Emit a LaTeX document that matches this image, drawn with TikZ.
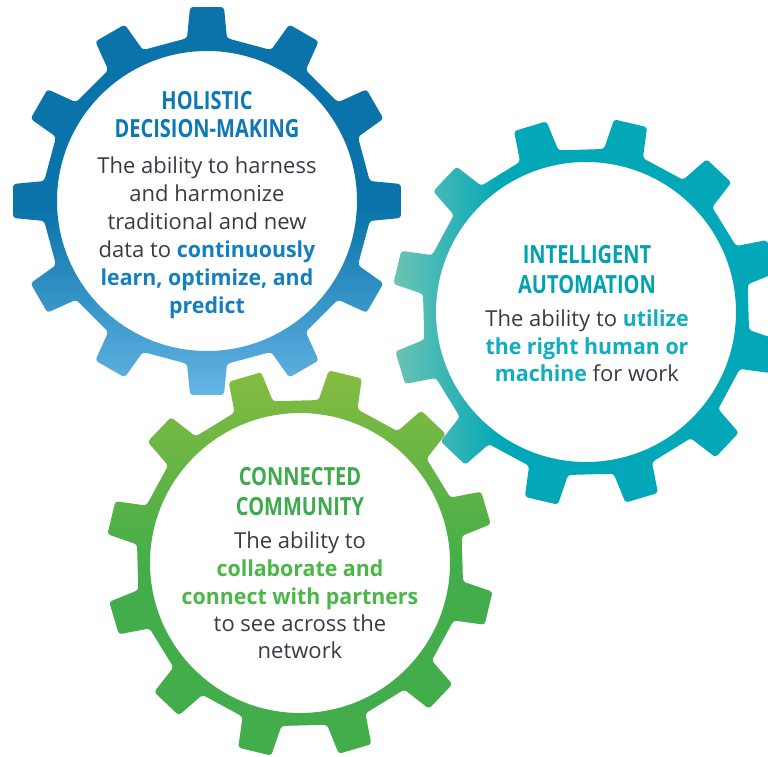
\documentclass[tikz,border=0pt]{standalone}
\usepackage{fontspec}
\setmainfont{Open Sans}
\newfontfamily\headfont[FakeStretch=0.8]{Open Sans}
\newfontfamily\emfont[FakeStretch=0.97]{Open Sans}
\definecolor{bluedark}{HTML}{0A73A9}
\definecolor{bluelight}{HTML}{65B5E5}
\definecolor{teallight}{HTML}{6EC3B3}
\definecolor{tealdark}{HTML}{02A8B8}
\definecolor{greenlight}{HTML}{86BC40}
\definecolor{greendark}{HTML}{42AD4A}
\definecolor{bluehead}{HTML}{0C78B5}
\definecolor{blueemph}{HTML}{137FC0}
\definecolor{tealhead}{HTML}{00A2B2}
\definecolor{tealemph}{HTML}{12ADBF}
\definecolor{greenhead}{HTML}{3DAA4B}
\definecolor{greenemph}{HTML}{4BB748}
\definecolor{txtgray}{HTML}{3A3A44}
\pgfdeclareverticalshading{blueg}{100bp}{color(0bp)=(bluelight); color(25bp)=(bluelight); color(49bp)=(bluedark); color(100bp)=(bluedark)}
\pgfdeclarehorizontalshading{tealg}{100bp}{color(0bp)=(teallight); color(25bp)=(teallight); color(39bp)=(tealdark); color(100bp)=(tealdark)}
\pgfdeclareverticalshading{greeng}{100bp}{color(0bp)=(greendark); color(49bp)=(greendark); color(75bp)=(greenlight); color(100bp)=(greenlight)}
\newcommand\geartrace[1]{%
  ({#1-15}:162.4)
  \foreach \k [evaluate=\k as \t using #1+30*\k] in {0,...,11}{
    -- ({\t-7}:164) -- ({\t-5}:194.7) -- ({\t+5}:194.7) -- ({\t+7}:164)
  } -- cycle (0,0) circle (150)}
\newcommand\eb[1]{{\emfont\bfseries\color{blueemph}#1}}
\newcommand\et[1]{{\emfont\bfseries\color{tealemph}#1}}
\newcommand\eg[1]{{\emfont\bfseries\color{greenemph}#1}}
\tikzset{
  gearshape/.style={rounded corners=3, even odd rule},
  head/.style={font=\headfont\bfseries\fontsize{25}{30}\selectfont, anchor=base, inner sep=0pt},
  body/.style={font=\fontsize{22}{28}\selectfont, text=txtgray, anchor=base, inner sep=0pt},
}
\begin{document}
\begin{tikzpicture}[x=1pt,y=1pt]
\useasboundingbox (0,0) rectangle (768,756);
\clip (0,0) rectangle (768,756);
% blue gear
\begin{scope}[shift={(207,555)}]
  \shade[gearshape, shading=blueg] \geartrace{0};
\end{scope}
% teal gear
\begin{scope}[shift={(586,444)}]
  \shade[gearshape, shading=tealg] \geartrace{16.7};
\end{scope}
% green gear
\begin{scope}[shift={(300,193)}]
  \shade[gearshape, shading=greeng] \geartrace{16.5};
\end{scope}
% blue text
\node[head, text=bluehead] (bh1) at (207,646) {HOLISTIC};
\node[head, text=bluehead] (bh2) at (207,618) {DECISION-MAKING};
\node[body] (bb1) at (207,582.5) {The ability to harness};
\node[body] (bb2) at (207,554.5) {and harmonize};
\node[body] (bb3) at (207,526.5) {traditional and new};
\node[body] (bb4) at (207,498.5) {data to \eb{continuously}};
\node[body] (bb5) at (207,470.5) {\eb{learn, optimize, and}};
\node[body] (bb6) at (207,442.5) {\eb{predict}};
% teal text
\node[head, text=tealhead] (th1) at (587,492.7) {INTELLIGENT};
\node[head, text=tealhead] (th2) at (587,462.7) {AUTOMATION};
\node[body] (tb1) at (587,429.3) {The ability to \et{utilize}};
\node[body] (tb2) at (587,401) {\et{the right human or}};
\node[body] (tb3) at (587,374.3) {\et{machine} for work};
% green text
\node[head, text=greenhead] (gh1) at (300,271) {CONNECTED};
\node[head, text=greenhead] (gh2) at (300,241) {COMMUNITY};
\node[body] (gb1) at (300,207.7) {The ability to};
\node[body] (gb2) at (300,179.3) {\eg{collaborate and}};
\node[body] (gb3) at (300,152) {\eg{connect with partners}};
\node[body] (gb4) at (300,124.3) {to see across the};
\node[body] (gb5) at (300,97.7) {network};
\end{tikzpicture}
\end{document}
